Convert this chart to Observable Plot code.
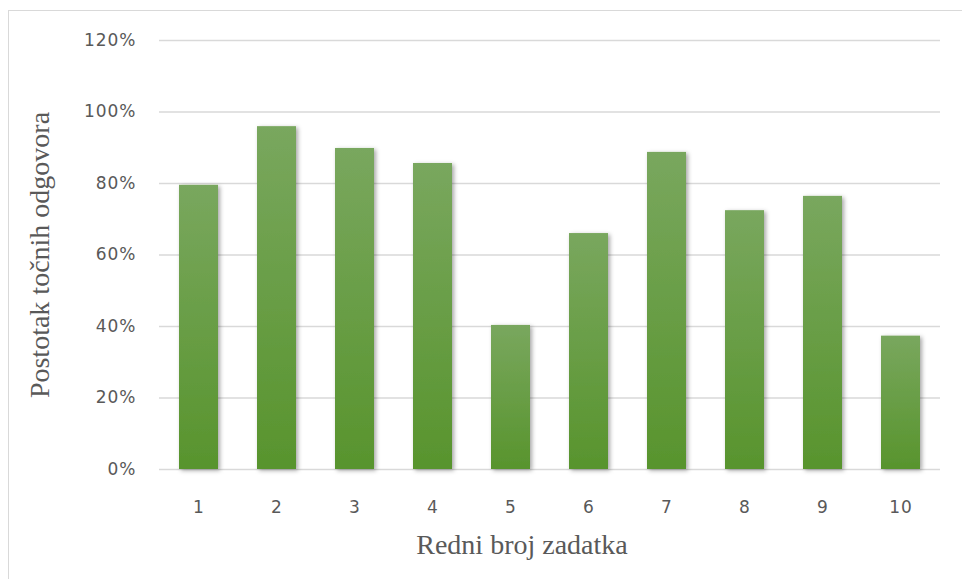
<!DOCTYPE html>
<html>
<head>
<meta charset="utf-8">
<script src="https://cdn.jsdelivr.net/npm/d3@7"></script>
<script src="https://cdn.jsdelivr.net/npm/@observablehq/plot@0.6"></script>
<style>
  html, body { margin: 0; padding: 0; background: #fff; overflow: hidden; }
  #wrap { position: relative; width: 962px; height: 579px; }
  #frame { position: absolute; left: 8px; top: 10px; width: 1100px; height: 700px; border: 1px solid #d9d9d9; box-sizing: border-box; }
  #chart { position: absolute; left: 0; top: 0; }
</style>
</head>
<body>
<div id="wrap"><div id="frame"></div><div id="chart"></div></div>
<script>
const zadaci = ["1", "2", "3", "4", "5", "6", "7", "8", "9", "10"];
const postotak = [0.795, 0.959, 0.898, 0.856, 0.403, 0.660, 0.887, 0.724, 0.764, 0.373];
const yTicks = [0, 0.2, 0.4, 0.6, 0.8, 1.0, 1.2];
const xTitle = "Redni broj zadatka";
const yTitle = "Postotak točnih odgovora";

const data = zadaci.map((z, i) => ({zadatak: z, postotak: postotak[i]}));

const tickFont = "DejaVu Sans, sans-serif";
const titleFont = "Liberation Serif, serif";

const chart = Plot.plot({
  width: 962,
  height: 579,
  marginLeft: 159,
  marginRight: 22,
  marginTop: 40,
  marginBottom: 110,
  style: {background: "transparent", color: "#595959", fontFamily: tickFont},
  x: {domain: zadaci, paddingInner: 0.495, paddingOuter: 0.2475, label: null},
  y: {domain: [0, 1.2], label: null},
  marks: [
    Plot.ruleY(yTicks, {stroke: "#d9d9d9", strokeWidth: 1.3}),
    Plot.barY(data, {x: "zadatak", y: "postotak", fill: "url(#barGrad)"}),
    Plot.axisY(yTicks, {tickSize: 0, tickPadding: 23, tickFormat: d => Math.round(d * 100) + "%", fill: "#595959", fontSize: 17, label: null}),
    Plot.axisX({tickSize: 0, tickPadding: 31, fill: "#595959", fontSize: 17, label: null}),
    Plot.text([yTitle], {frameAnchor: "left", dx: -119, rotate: -90, textAnchor: "middle", lineAnchor: "middle", text: d => d, fontFamily: titleFont, fontSize: 28, fill: "#595959"}),
    Plot.text([xTitle], {frameAnchor: "bottom", dx: -28, dy: 76, textAnchor: "middle", lineAnchor: "middle", text: d => d, fontFamily: titleFont, fontSize: 28, fill: "#595959"})
  ]
});

const svg = d3.select(chart);
const defs = svg.insert("defs", ":first-child");
const g = defs.append("linearGradient").attr("id", "barGrad").attr("x1", 0).attr("y1", 0).attr("x2", 0).attr("y2", 1);
g.append("stop").attr("offset", "0%").attr("stop-color", "#79a75e");
g.append("stop").attr("offset", "100%").attr("stop-color", "#58942d");
const f = defs.append("filter").attr("id", "shadow").attr("x", "-30%").attr("y", "-10%").attr("width", "160%").attr("height", "130%");
f.append("feDropShadow").attr("dx", 2).attr("dy", 1.5).attr("stdDeviation", 2.2).attr("flood-color", "#000").attr("flood-opacity", 0.35);
svg.selectAll("rect").filter(function() { return this.getAttribute("fill") === "url(#barGrad)" || (this.parentNode && this.parentNode.getAttribute("fill") === "url(#barGrad)"); }).attr("filter", "url(#shadow)");
svg.selectAll("text").filter(function() {
  const t = this.textContent;
  return t !== xTitle && t !== yTitle;
}).style("font-size", "17px").style("letter-spacing", "1px").style("font-family", tickFont);

document.getElementById("chart").appendChild(chart);
</script>
</body>
</html>
